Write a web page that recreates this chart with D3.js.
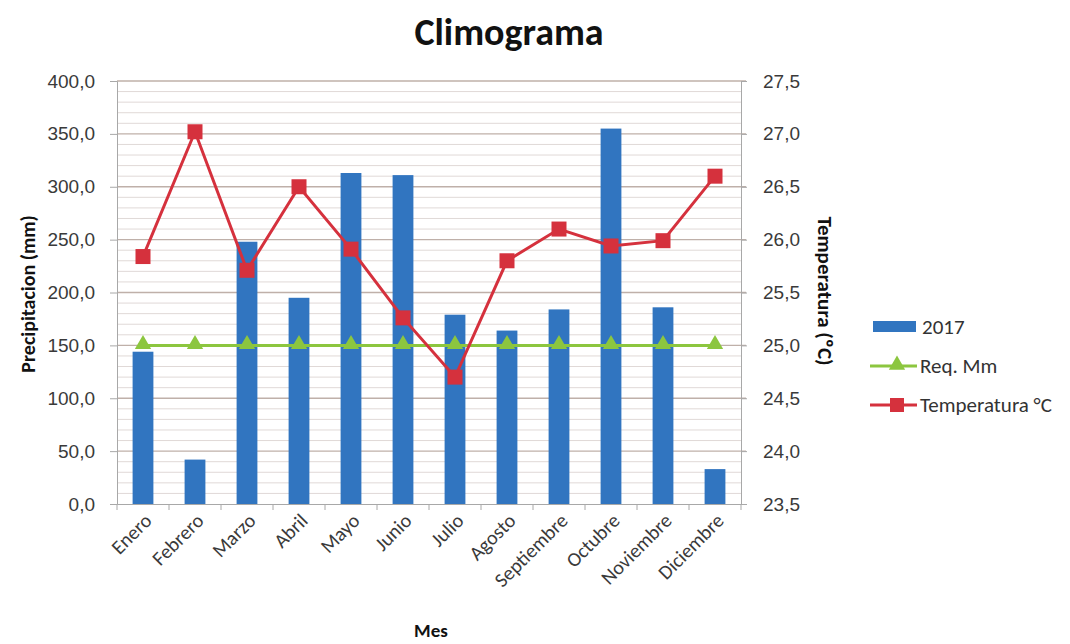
<!DOCTYPE html>
<html><head><meta charset="utf-8">
<script src="https://cdn.jsdelivr.net/npm/d3@7/dist/d3.min.js"></script>
<style>
body{margin:0;background:#fff;}
svg{display:block;font-family:Carlito,Lato,"Open Sans",sans-serif;}
</style></head>
<body><svg id="c" width="1070" height="644"></svg>
<script>
const months = ["Enero","Febrero","Marzo","Abril","Mayo","Junio","Julio","Agosto","Septiembre","Octubre","Noviembre","Diciembre"];
const precip2017 = [144, 42, 248, 195, 313, 311, 179, 164, 184, 355, 186, 33];
const reqMm = [150,150,150,150,150,150,150,150,150,150,150,150];
const temperatura = [25.84, 27.02, 25.71, 26.50, 25.91, 25.26, 24.70, 25.80, 26.10, 25.94, 25.99, 26.60];
const leftTicks = [0,50,100,150,200,250,300,350,400];
const rightTicks = [23.5,24.0,24.5,25.0,25.5,26.0,26.5,27.0,27.5];

const svg = d3.select("#c");
const L = 117, R = 741, T = 81, B = 504;
const x = d3.scaleBand().domain(months).range([L, R]).paddingInner(0.6).paddingOuter(0.3);
const xc = d3.scalePoint().domain(months).range([L, R]).padding(0.5);
const yL = d3.scaleLinear().domain([0, 400]).range([B, T]);
const yR = d3.scaleLinear().domain([23.5, 27.5]).range([B, T]);
const fmt = v => d3.format(".1f")(v).replace(".", ",");

// minor grid
svg.append("g").selectAll("line").data(d3.range(0, 401, 10).filter(v => v % 50 !== 0)).join("line")
  .attr("x1", L).attr("x2", R).attr("y1", d => yL(d)).attr("y2", d => yL(d))
  .attr("stroke", "#e0d9d7").attr("stroke-width", 1);
// major grid
svg.append("g").selectAll("line").data(leftTicks.slice(1)).join("line")
  .attr("x1", L).attr("x2", R + 5).attr("y1", d => yL(d)).attr("y2", d => yL(d))
  .attr("stroke", "#bfb0a9").attr("stroke-width", 1.3);

// axes
const axL = svg.append("g").attr("transform", `translate(${L},0)`)
  .call(d3.axisLeft(yL).tickValues(leftTicks).tickFormat(fmt).tickSize(7).tickPadding(15));
const axR = svg.append("g").attr("transform", `translate(${R},0)`)
  .call(d3.axisRight(yR).tickValues(rightTicks).tickFormat(fmt).tickSize(6).tickPadding(16));
const axB = svg.append("g").attr("transform", `translate(0,${B})`)
  .call(d3.axisBottom(x).tickSize(0).tickFormat(""));
// boundary ticks on x axis
svg.append("g").selectAll("line").data(d3.range(months.length + 1)).join("line")
  .attr("x1", i => L + i * (R - L) / months.length).attr("x2", i => L + i * (R - L) / months.length)
  .attr("y1", B).attr("y2", B + 6).attr("stroke", "#a8a8a8");
[axL, axR, axB].forEach(a => {
  a.select(".domain").attr("stroke", "#a8a8a8");
  a.selectAll(".tick line").attr("stroke", "#a8a8a8");
  a.selectAll("text").attr("fill", "#3a3a3a").style("font-size", "19px");
});

// x labels
svg.append("g").selectAll("text").data(months).join("text")
  .attr("transform", d => `translate(${xc(d) + 5},${B + 13}) rotate(-45)`)
  .attr("text-anchor", "end").attr("dy", "0.35em")
  .attr("fill", "#3a3a3a").style("font-size", "20px").text(d => d);

// bars
svg.append("g").selectAll("rect").data(months).join("rect")
  .attr("x", d => x(d)).attr("width", x.bandwidth())
  .attr("y", (d, i) => yL(precip2017[i])).attr("height", (d, i) => B - yL(precip2017[i]))
  .attr("fill", "#3175c0");

// Req Mm line
const lineL = d3.line().x((d, i) => xc(months[i])).y(d => yL(d));
svg.append("path").datum(reqMm).attr("d", lineL).attr("fill", "none")
  .attr("stroke", "#8cc63f").attr("stroke-width", 3);
const tri = d3.symbol().type(d3.symbolTriangle).size(115);
svg.append("g").selectAll("path").data(reqMm).join("path")
  .attr("d", tri).attr("transform", (d, i) => `translate(${xc(months[i])},${yL(d) - 1})`)
  .attr("fill", "#8cc63f");

// Temperature line
const lineR = d3.line().x((d, i) => xc(months[i])).y(d => yR(d));
svg.append("path").datum(temperatura).attr("d", lineR).attr("fill", "none")
  .attr("stroke", "#d5313d").attr("stroke-width", 3);
svg.append("g").selectAll("rect").data(temperatura).join("rect")
  .attr("x", (d, i) => xc(months[i]) - 7.5).attr("y", d => yR(d) - 7.5)
  .attr("width", 15).attr("height", 15).attr("fill", "#d5313d");

// titles
svg.append("text").attr("x", 509).attr("y", 45).attr("text-anchor", "middle")
  .style("font-size", "38px").style("font-weight", "bold").attr("fill", "#111").text("Climograma");
svg.append("text").attr("transform", "translate(35,294) rotate(-90)").attr("text-anchor", "middle")
  .style("font-size", "20px").style("font-weight", "bold").attr("fill", "#111").text("Precipitacion (mm)");
svg.append("text").attr("transform", "translate(818,291) rotate(90)").attr("text-anchor", "middle")
  .style("font-size", "21px").style("font-weight", "bold").attr("fill", "#111").text("Temperatura (ºC)");
svg.append("text").attr("x", 431).attr("y", 637).attr("text-anchor", "middle")
  .style("font-size", "19px").style("font-weight", "bold").attr("fill", "#111").text("Mes");

// legend
const lg = svg.append("g");
lg.append("rect").attr("x", 873).attr("y", 321).attr("width", 43).attr("height", 11).attr("fill", "#3175c0");
lg.append("text").attr("x", 922).attr("y", 334).style("font-size", "21px").attr("fill", "#333").text("2017");
lg.append("line").attr("x1", 870).attr("x2", 917).attr("y1", 366).attr("y2", 366).attr("stroke", "#8cc63f").attr("stroke-width", 3);
lg.append("path").attr("d", tri).attr("transform", "translate(897,365)").attr("fill", "#8cc63f");
lg.append("text").attr("x", 920).attr("y", 373).style("font-size", "21px").attr("fill", "#333").text("Req. Mm");
lg.append("line").attr("x1", 870).attr("x2", 917).attr("y1", 405).attr("y2", 405).attr("stroke", "#d5313d").attr("stroke-width", 3);
lg.append("rect").attr("x", 890).attr("y", 398).attr("width", 14).attr("height", 14).attr("fill", "#d5313d");
lg.append("text").attr("x", 920).attr("y", 412).style("font-size", "21px").attr("fill", "#333").text("Temperatura °C");
</script></body></html>
